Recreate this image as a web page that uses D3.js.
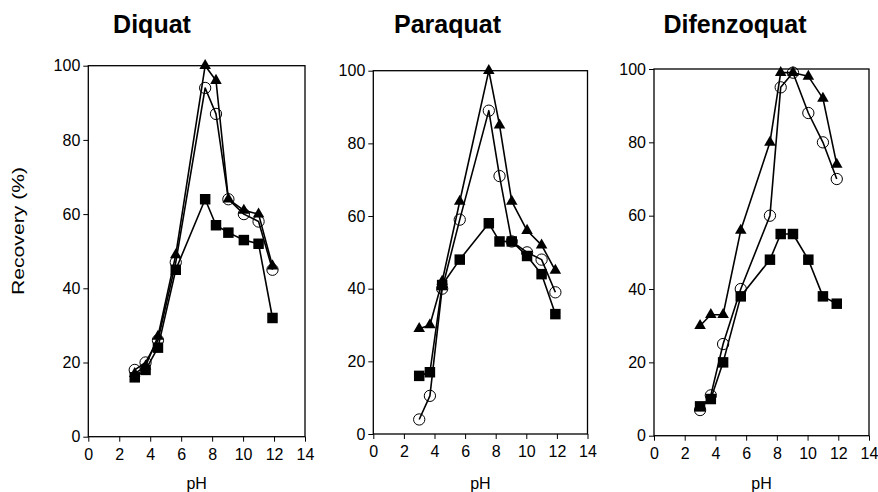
<!DOCTYPE html>
<html>
<head>
<meta charset="utf-8">
<script src="https://cdn.jsdelivr.net/npm/d3@7/dist/d3.min.js"></script>
<style>
  html, body { margin: 0; padding: 0; background: #fff; }
  svg { display: block; }
  text { font-family: "Liberation Sans", Arial, sans-serif; fill: #000; }
</style>
</head>
<body>
<svg id="chart" width="878" height="492"></svg>
<script>
// ---- data ----
const pH = [3.0, 3.7, 4.5, 5.65, 7.55, 8.25, 9.05, 10.05, 11.0, 11.9];
const panelTitles = ["Diquat", "Paraquat", "Difenzoquat"];
const xTicks = [0, 2, 4, 6, 8, 10, 12, 14];
const yTicks = [0, 20, 40, 60, 80, 100];

const diquatTriangle = [17, 19, 27, 49, 100, 96, 64, 61, 60, 46];
const diquatCircle   = [18, 20, 26, 47, 94, 87, 64, 60, 58, 45];
const diquatSquare   = [16, 18, 24, 45, 64, 57, 55, 53, 52, 32];

const paraquatTriangle = [29, 30, 42, 64, 100, 85, 64, 56, 52, 45];
const paraquatCircle   = [4, 10.5, 40, 59, 89, 71, 53, 50, 48, 39];
const paraquatSquare   = [16, 17, 41, 48, 58, 53, 53, 49, 44, 33];

const difenzoquatTriangle = [30, 33, 33, 56, 80, 99, 99, 98, 92, 74];
const difenzoquatCircle   = [7, 11, 25, 40, 60, 95, 99, 88, 80, 70];
const difenzoquatSquare   = [8, 10, 20, 38, 48, 55, 55, 48, 38, 36];

const panelData = [
  { circle: diquatCircle, triangle: diquatTriangle, square: diquatSquare },
  { circle: paraquatCircle, triangle: paraquatTriangle, square: paraquatSquare },
  { circle: difenzoquatCircle, triangle: difenzoquatTriangle, square: difenzoquatSquare }
];

// ---- layout ----
const boxes = [
  { l: 88.3, r: 305, t: 65.7, b: 436.7, titleX: 152 },
  { l: 373.3, r: 587.5, t: 70.7, b: 434, titleX: 447.5 },
  { l: 654, r: 869, t: 69, b: 435.7, titleX: 735 }
];

const svg = d3.select("#chart");

svg.append("text")
  .attr("transform", "translate(24,231) rotate(-90)")
  .attr("text-anchor", "middle")
  .attr("textLength", 128)
  .attr("lengthAdjust", "spacingAndGlyphs")
  .style("font-size", "16px")
  .text("Recovery (%)");

boxes.forEach((bx, i) => {
  const x = d3.scaleLinear().domain([0, 14]).range([bx.l, bx.r]);
  const y = d3.scaleLinear().domain([0, 100]).range([bx.b, bx.t]);
  const g = svg.append("g");

  g.append("text")
    .attr("x", bx.titleX).attr("y", 33)
    .attr("text-anchor", "middle")
    .style("font-size", "25px").style("font-weight", "bold")
    .text(panelTitles[i]);

  g.append("rect")
    .attr("x", bx.l).attr("y", bx.t)
    .attr("width", bx.r - bx.l).attr("height", bx.b - bx.t)
    .attr("fill", "none").attr("stroke", "#000").attr("stroke-width", 1.3);

  const ya = g.append("g").attr("transform", `translate(${bx.l},0)`)
    .call(d3.axisLeft(y).tickValues(yTicks).tickSize(5).tickPadding(3).tickFormat(d3.format("d")));
  ya.select(".domain").remove();
  ya.selectAll("text").style("font-size", "16px").attr("font-family", null);
  ya.selectAll("line").attr("stroke-width", 1);

  const xa = g.append("g").attr("transform", `translate(0,${bx.b})`)
    .call(d3.axisBottom(x).tickValues(xTicks).tickSize(5).tickPadding(7).tickFormat(d3.format("d")));
  xa.select(".domain").remove();
  xa.selectAll("text").style("font-size", "16px").attr("font-family", null);
  xa.selectAll("line").attr("stroke-width", 1);

  g.append("text")
    .attr("x", (bx.l + bx.r) / 2).attr("y", 489)
    .attr("text-anchor", "middle")
    .style("font-size", "16px")
    .text("pH");

  const d = panelData[i];
  const line = d3.line().x((v, k) => x(pH[k])).y(v => y(v));
  ["circle", "triangle", "square"].forEach(key => {
    g.append("path").attr("d", line(d[key]))
      .attr("fill", "none").attr("stroke", "#000").attr("stroke-width", 1.6)
      .attr("stroke-linejoin", "round");
  });

  const symCircle = d3.symbol().type(d3.symbolCircle).size(100);
  const symTri = d3.symbol().type(d3.symbolTriangle).size(58);
  const symSq = d3.symbol().type(d3.symbolSquare).size(110);

  g.selectAll(null).data(d.circle).enter().append("path")
    .attr("d", symCircle)
    .attr("transform", (v, k) => `translate(${x(pH[k])},${y(v)})`)
    .attr("fill", "none").attr("stroke", "#000").attr("stroke-width", 1);
  g.selectAll(null).data(d.triangle).enter().append("path")
    .attr("d", symTri)
    .attr("transform", (v, k) => `translate(${x(pH[k])},${y(v)})`)
    .attr("fill", "#000");
  g.selectAll(null).data(d.square).enter().append("path")
    .attr("d", symSq)
    .attr("transform", (v, k) => `translate(${x(pH[k])},${y(v)})`)
    .attr("fill", "#000");
});
</script>
</body>
</html>
